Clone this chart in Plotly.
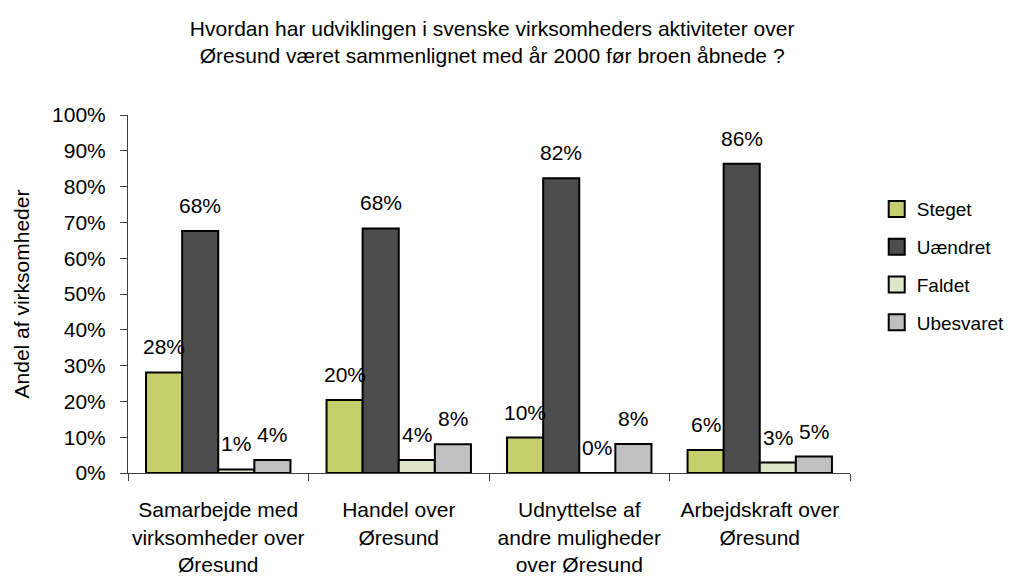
import plotly.graph_objects as go

# ---- data ----
categories = [
    "Samarbejde med<br>virksomheder over<br>Øresund",
    "Handel over<br>Øresund",
    "Udnyttelse af<br>andre muligheder<br>over Øresund",
    "Arbejdskraft over<br>Øresund",
]
series_names = ["Steget", "Uændret", "Faldet", "Ubesvaret"]
steget = [28.1, 20.4, 9.9, 6.4]
uaendret = [67.6, 68.3, 82.3, 86.4]
faldet = [1.0, 3.6, 0.0, 2.9]
ubesvaret = [3.6, 8.0, 8.1, 4.6]
y_ticks = list(range(0, 101, 10))
y_tick_labels = [f"{v}%" for v in y_ticks]

series_values = [steget, uaendret, faldet, ubesvaret]
colors = ["#C6CF6B", "#4D4D4D", "#DDE6C8", "#C0C0C0"]

FONT = "Liberation Sans, Arial, sans-serif"
FS = 21

fig = go.Figure()
for name, vals, col in zip(series_names, series_values, colors):
    fig.add_trace(go.Bar(
        x=categories, y=vals, name=name, showlegend=False,
        marker=dict(color=col, line=dict(color="black", width=2)),
    ))
# legend entries (square markers)
for name, col in zip(series_names, colors):
    fig.add_trace(go.Scatter(
        x=[None], y=[None], mode="markers", name=name, legendgroup=name,
        marker=dict(symbol="square", size=16, color=col,
                    line=dict(color="black", width=2)),
    ))

# value labels above bars
n = len(series_names)
annotations = []
for k, vals in enumerate(series_values):
    off = (k - (n - 1) / 2) * 0.2
    for i, v in enumerate(vals):
        annotations.append(dict(
            x=i + off, y=v, xref="x", yref="y",
            text=f"{round(v)}%", showarrow=False,
            yanchor="bottom", yshift=12,
            font=dict(family=FONT, size=FS, color="black"),
        ))

fig.update_layout(
    width=1015, height=583,
    paper_bgcolor="white", plot_bgcolor="white",
    margin=dict(l=120, r=173, t=107, b=118, autoexpand=False),
    font=dict(family=FONT, size=FS, color="black"),
    barmode="group", bargap=0.2, bargroupgap=0,
    title=dict(
        text="Hvordan har udviklingen i svenske virksomheders aktiviteter over<br>Øresund været sammenlignet med år 2000 før broen åbnede ?",
        x=0.477, xanchor="center", xref="container",
        y=1 - 28 / 583, yanchor="middle", yref="container",
        font=dict(family=FONT, size=FS, color="black"),
    ),
    xaxis=dict(
        showline=True, linecolor="#404040", linewidth=1,
        ticks="outside", tickson="boundaries", ticklen=7, tickcolor="#404040",
        showgrid=False, ticklabelstandoff=18, automargin=False, tickangle=0,
        tickfont=dict(family=FONT, size=FS, color="black"),
    ),
    yaxis=dict(
        range=[0, 100], tickvals=y_ticks, ticktext=y_tick_labels,
        showline=True, linecolor="#404040", linewidth=1,
        ticks="outside", ticklen=7, tickcolor="#404040",
        showgrid=False, zeroline=False, ticklabelstandoff=10, automargin=False,
        title=dict(text="Andel af virksomheder", standoff=16,
                   font=dict(family=FONT, size=FS, color="black")),
        tickfont=dict(family=FONT, size=FS, color="black"),
    ),
    legend=dict(
        x=1.037, xanchor="left", y=0.79, yanchor="top",
        font=dict(family=FONT, size=19, color="black"),
        itemwidth=30, traceorder="grouped", tracegroupgap=10,
    ),
    annotations=annotations,
)

fig.write_html("out.html")
